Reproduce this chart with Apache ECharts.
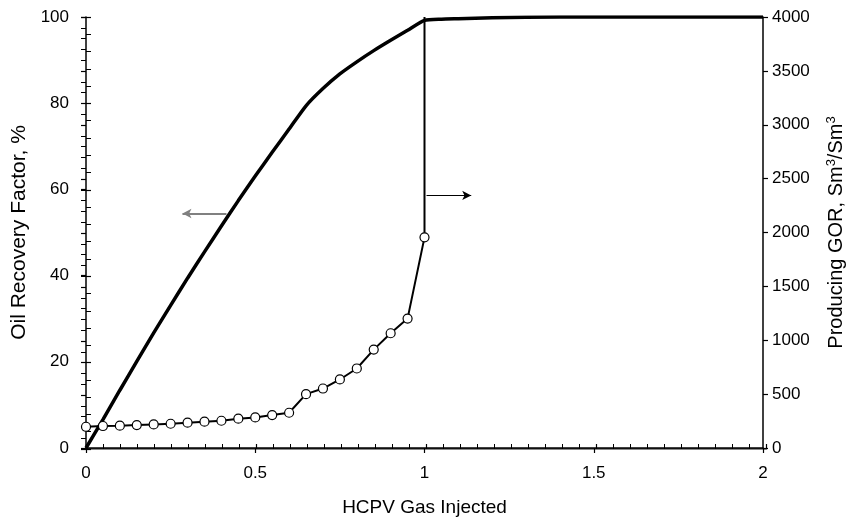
<!DOCTYPE html>
<html><head><meta charset="utf-8">
<script src="https://cdn.jsdelivr.net/npm/echarts@6/dist/echarts.min.js"></script>
<style>html,body{margin:0;padding:0;background:#fff}#c{width:854px;height:522px}</style>
</head><body><div id="c"></div>
<script>
// Oil recovery factor (%), vs HCPV gas injected
const recX = [0, 0.05, 0.1, 0.15, 0.2, 0.25, 0.3, 0.35, 0.4, 0.45, 0.5, 0.55, 0.6, 0.65, 0.7, 0.75, 0.8, 0.85, 0.9, 0.95, 1.0, 1.05, 1.1, 1.2, 1.4, 2.0];
const recY = [0, 6.6, 13.4, 20.1, 26.7, 33.1, 39.4, 45.5, 51.5, 57.4, 63.1, 68.6, 74.0, 79.4, 83.4, 86.8, 89.6, 92.2, 94.6, 96.9, 99.2, 99.5, 99.6, 99.8, 100, 100];
// Producing GOR (Sm3/Sm3)
const gorX = [0, 0.05, 0.1, 0.15, 0.2, 0.25, 0.3, 0.35, 0.4, 0.45, 0.5, 0.55, 0.6, 0.65, 0.7, 0.75, 0.8, 0.85, 0.9, 0.95, 1.0, 1.0];
const gorY = [197, 204, 207, 213, 219, 225, 235, 244, 253, 272, 284, 306, 327, 500, 552, 636, 738, 913, 1065, 1201, 1955, 4000];
// Axis ticks
const xTicks = [0, 0.5, 1, 1.5, 2];
const leftTicks = [0, 20, 40, 60, 80, 100];
const rightTicks = [0, 500, 1000, 1500, 2000, 2500, 3000, 3500, 4000];
// Annotation arrows [x, recovery %]
const arrowLeft = [[0.415, 54.4], [0.285, 54.4]];
const arrowRight = [[1.006, 58.6], [1.138, 58.6]];

const FONT = '"Liberation Sans", Arial, sans-serif';
const lbl = {color: '#000', fontFamily: FONT, fontSize: 17, formatter: v => String(v)};
const chart = echarts.init(document.getElementById('c'));
const recData = recX.map((x, i) => [x, recY[i]]);
const gorData = gorX.map((x, i) => i === gorX.length - 1 ? {value: [x, gorY[i]], symbol: 'none'} : [x, gorY[i]]);
const xMin = xTicks[0], xMax = xTicks[xTicks.length - 1];
const lMax = leftTicks[leftTicks.length - 1], rMax = rightTicks[rightTicks.length - 1];
const tickStyle = {color: '#000', width: 1.2};
const g = {left: 86, right: 88, top: 17, bottom: 73, containLabel: false};

chart.setOption({
  animation: false,
  backgroundColor: '#fff',
  grid: [Object.assign({}, g), Object.assign({}, g)],
  xAxis: [
    {gridIndex: 0, type: 'value', min: xMin, max: xMax, interval: 0.5, position: 'bottom',
     name: 'HCPV Gas Injected', nameLocation: 'middle', nameGap: 50,
     nameTextStyle: {color: '#000', fontFamily: FONT, fontSize: 19},
     axisLine: {lineStyle: {color: '#000', width: 1.5}},
     axisTick: {show: true, inside: false, length: 5, lineStyle: tickStyle},
     axisLabel: Object.assign({margin: 17}, lbl),
     splitLine: {show: false}},
    {gridIndex: 1, type: 'value', min: xMin, max: xMax, interval: 0.5, position: 'bottom',
     axisLine: {show: true, lineStyle: {color: '#000', width: 1.5}}, axisLabel: {show: false}, splitLine: {show: false},
     axisTick: {show: true, inside: true, length: 5, lineStyle: tickStyle},
     minorTick: {show: true, splitNumber: 10, length: 5, lineStyle: {color: '#000', width: 1}}},
    {gridIndex: 1, type: 'value', min: xMin, max: xMax, position: 'top',
     axisLine: {show: true, lineStyle: {color: '#888', width: 1}}, axisLabel: {show: false},
     axisTick: {show: false}, splitLine: {show: false}}
  ],
  yAxis: [
    {gridIndex: 0, type: 'value', min: 0, max: lMax, interval: 20, position: 'left',
     name: 'Oil Recovery Factor, %', nameLocation: 'middle', nameGap: 50, nameRotate: 90,
     nameTextStyle: {color: '#000', fontFamily: FONT, fontSize: 21},
     axisLine: {show: true, lineStyle: {color: '#000', width: 1.5}},
     axisTick: {show: true, inside: false, length: 5, lineStyle: tickStyle},
     axisLabel: Object.assign({margin: 17}, lbl), splitLine: {show: false}},
    {gridIndex: 0, type: 'value', min: 0, max: rMax, interval: 500, position: 'right',
     name: '{n|Producing GOR, Sm}{s|3}{n|/Sm}{s|3}', nameLocation: 'middle', nameGap: 62, nameRotate: 90,
     nameTextStyle: {rich: {n: {color: '#000', fontFamily: FONT, fontSize: 20},
                            s: {color: '#000', fontFamily: FONT, fontSize: 13, verticalAlign: 'top', padding: [0, 0, 9, 0]}}},
     axisLine: {show: true, lineStyle: {color: '#000', width: 1.5}},
     axisTick: {show: true, inside: false, length: 5, lineStyle: tickStyle},
     axisLabel: Object.assign({margin: 9}, lbl), splitLine: {show: false}},
    {gridIndex: 1, type: 'value', min: 0, max: lMax, interval: 20, position: 'left',
     axisLine: {show: false}, axisLabel: {show: false}, splitLine: {show: false},
     axisTick: {show: true, inside: true, length: 5, lineStyle: tickStyle},
     minorTick: {show: true, splitNumber: 5, length: 5, lineStyle: {color: '#000', width: 1}}},
    {gridIndex: 1, type: 'value', min: 0, max: rMax, interval: 500, position: 'right',
     axisLine: {show: false}, axisLabel: {show: false}, splitLine: {show: false},
     axisTick: {show: true, inside: true, length: 5, lineStyle: tickStyle},
     minorTick: {show: true, splitNumber: 5, length: 5, lineStyle: {color: '#000', width: 1}}}
  ],
  series: [
    {name: 'Recovery', type: 'line', xAxisIndex: 0, yAxisIndex: 0, data: recData,
     showSymbol: false, symbol: 'none', smooth: 0.2, lineStyle: {color: '#000', width: 3.5}, z: 3,
     markLine: {silent: true, symbol: ['none', 'arrow'], symbolSize: [7, 9], label: {show: false},
       lineStyle: {type: 'solid'},
       data: [
         [{coord: arrowLeft[0], lineStyle: {color: '#808080', width: 1.8, type: 'solid'}}, {coord: arrowLeft[1]}],
         [{coord: arrowRight[0], lineStyle: {color: '#000', width: 1.2, type: 'solid'}}, {coord: arrowRight[1]}]
       ]}},
    {name: 'GOR', type: 'line', xAxisIndex: 0, yAxisIndex: 1, data: gorData,
     symbol: 'circle', symbolSize: 9, showAllSymbol: true,
     itemStyle: {color: '#fff', borderColor: '#000', borderWidth: 1.2},
     lineStyle: {color: '#000', width: 2}, z: 4}
  ]
});
</script></body></html>
